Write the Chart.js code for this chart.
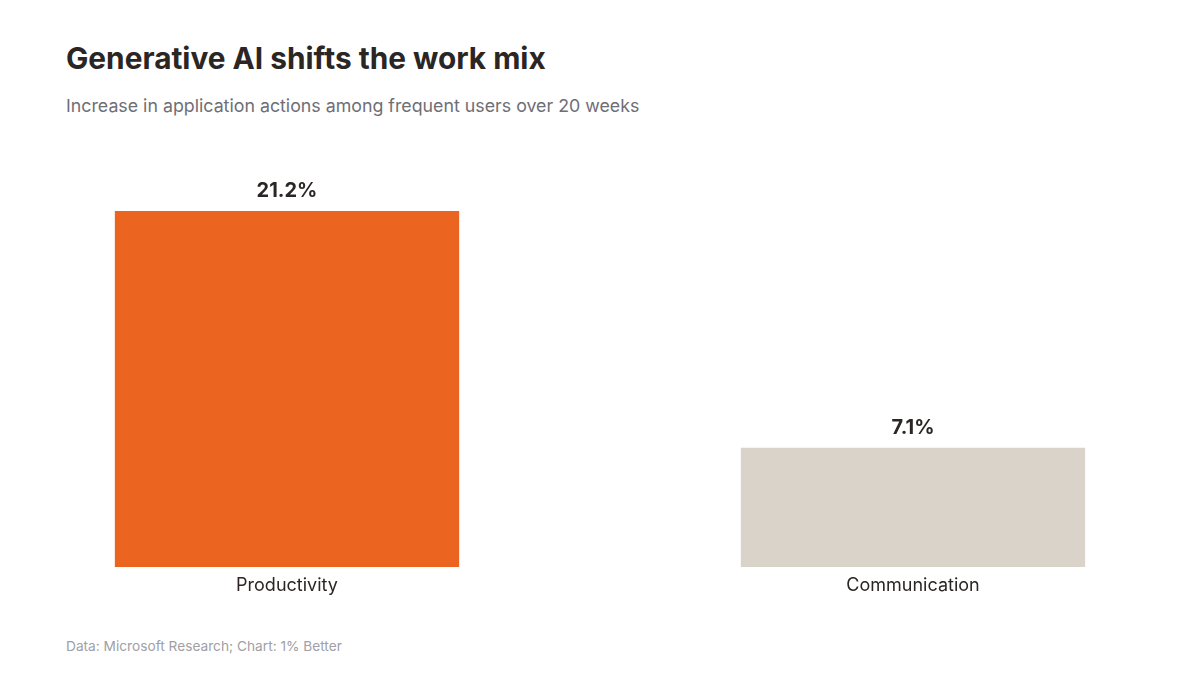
<!DOCTYPE html>
<html>
<head>
<meta charset="utf-8">
<script src="https://cdn.jsdelivr.net/npm/chart.js@4"></script>
<style>
  body { margin: 0; width: 1200px; height: 675px; background: #fff; position: relative; overflow: hidden; font-family: Inter, sans-serif; }
  #title { position: absolute; left: 66px; top: 40px; font-size: 29.8px; font-weight: 700; color: #2b2624; }
  #subtitle { position: absolute; left: 66px; top: 95px; font-size: 17.8px; color: #6e6e76; }
  #source { position: absolute; left: 66px; top: 638px; font-size: 13.7px; color: #a0a0a6; }
  #wrap { position: absolute; left: -26px; top: 150px; width: 1252px; height: 460px; }
</style>
</head>
<body>
<div id="title">Generative AI shifts the work mix</div>
<div id="subtitle">Increase in application actions among frequent users over 20 weeks</div>
<div id="wrap"><canvas id="chart"></canvas></div>
<div id="source">Data: Microsoft Research; Chart: 1% Better</div>
<script>
let categories = ['Productivity', 'Communication'];
let values = [21.2, 7.1];
let barColors = ['#eb6420', '#d9d3c9'];

// value labels above bars
let valueLabels = {
    id: 'valueLabels',
    afterDatasetsDraw(chart) {
        let ctx = chart.ctx;
        let meta = chart.getDatasetMeta(0);
        ctx.save();
        ctx.font = '700 20px Inter, sans-serif';
        ctx.fillStyle = '#2b2624';
        ctx.textAlign = 'center';
        ctx.textBaseline = 'middle';
        meta.data.forEach((bar, i) => {
            ctx.fillText(values[i].toFixed(1) + '%', bar.x, bar.y - 20);
        });
        ctx.restore();
    }
};

let chart = document.querySelector('#chart').getContext('2d');

new Chart(chart, {
    type: 'bar',
    data: {
        labels: categories,
        datasets: [{
            data: values,
            backgroundColor: barColors,
            barPercentage: 0.55,
            categoryPercentage: 1
        }]
    },
    options: {
        responsive: true,
        maintainAspectRatio: false,
        animation: false,
        layout: { padding: { top: 61, left: 0, right: 0, bottom: 0 } },
        plugins: { legend: { display: false }, tooltip: { enabled: false } },
        scales: {
            x: {
                grid: { display: false, drawTicks: false },
                border: { display: false },
                ticks: { padding: 8, color: '#2b2624', font: { family: 'Inter', size: 18 } },
                afterFit: (scale) => { scale.height = 43; }
            },
            y: {
                display: false,
                min: 0,
                max: 21.2
            }
        }
    },
    plugins: [valueLabels]
});
</script>
</body>
</html>
